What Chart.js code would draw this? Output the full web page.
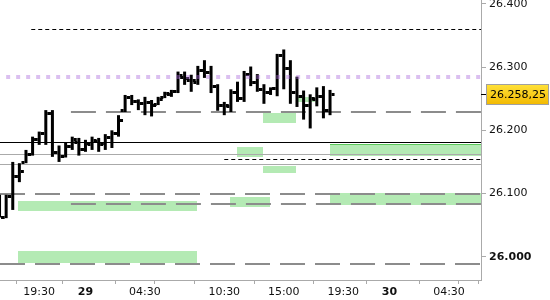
<!DOCTYPE html>
<html>
<head>
<meta charset="utf-8">
<script src="https://cdn.jsdelivr.net/npm/chart.js@4.4.0/dist/chart.umd.min.js"></script>
<style>
    html, body { margin: 0; padding: 0; background: #fff; }
    #wrap { width: 550px; height: 300px; }
</style>
</head>
<body>
<div id="wrap"><canvas id="canvas"></canvas></div>
<script>
// half-hour slots, 0 = 19:30 on the 28th (evening break squeezed out)
var barSlots = [-6, -5, -4, -3, -2, -1, 0, 1, 2, 3, 4, 5, 6, 7, 8, 9, 10, 11, 12, 13, 14, 15, 16, 17, 18, 19,
    20, 21, 22, 23, 24, 25, 26, 27, 28, 29, 30, 31, 32, 33, 34, 35, 36, 37, 38, 39, 40, 41, 42, 43, 44];
var opens = [26080, 26063, 26096, 26128, 26150, 26162, 26186, 26196, 26227, 26165, 26160, 26175, 26182, 26170,
    26178, 26183, 26180, 26190, 26196, 26232, 26253, 26246, 26243, 26245, 26242, 26252, 26258, 26262, 26284,
    26280, 26276, 26295, 26292, 26270, 26240, 26238, 26261, 26251, 26289, 26277, 26265, 26260, 26267, 26320,
    26298, 26261, 26254, 26240, 26250, 26254, 26232];
var highs = [26098, 26098, 26150, 26148, 26169, 26190, 26198, 26232, 26232, 26176, 26180, 26190, 26188, 26185,
    26190, 26188, 26194, 26200, 26224, 26256, 26256, 26249, 26253, 26248, 26253, 26261, 26264, 26293, 26293,
    26288, 26302, 26311, 26302, 26273, 26245, 26265, 26277, 26294, 26301, 26289, 26273, 26268, 26321, 26328,
    26311, 26285, 26263, 26257, 26268, 26270, 26264];
var lows = [26062, 26061, 26074, 26118, 26148, 26160, 26177, 26177, 26158, 26150, 26157, 26169, 26160, 26166,
    26169, 26166, 26169, 26172, 26190, 26229, 26240, 26232, 26224, 26222, 26240, 26251, 26253, 26259, 26272,
    26261, 26272, 26283, 26259, 26231, 26224, 26229, 26245, 26245, 26270, 26261, 26242, 26256, 26254, 26265,
    26242, 26237, 26217, 26203, 26238, 26219, 26224];
var closes = [26063, 26096, 26128, 26135, 26162, 26186, 26196, 26227, 26165, 26160, 26175, 26186, 26170, 26180,
    26185, 26178, 26190, 26195, 26216, 26253, 26246, 26243, 26245, 26240, 26250, 26259, 26262, 26287, 26283,
    26280, 26295, 26292, 26270, 26240, 26240, 26261, 26251, 26289, 26277, 26265, 26260, 26267, 26320, 26298,
    26261, 26254, 26240, 26251, 26254, 26232, 26258.25];

var xTickSlots = [0, 7, 16, 19, 28, 37, 46, 53, 62, 65];
var xTickLabels = ['19:30', '29', '04:30', '', '10:30', '15:00', '19:30', '30', '04:30', ''];
var yTicks = [26000, 26100, 26200, 26300, 26400];

// horizontal levels, grouped by how they are drawn
var blackDashLevels = [26360, 26154];
var blackDashFrom = [-1.2, 28];
var purpleLevels = [26284.4];
var purpleFrom = [-5];
var grayDashLevels = [26228.5, 26100, 26083.4, 25988.4];
var grayDashFrom = [4.8, -6, 4.8, -6];
var blackLevels = [26182];
var grayLevels = [26162, 26146];

// green zones
var zoneFrom = [-3.25, -3.25, 29.9, 33.8, 28.9, 44, 44, 33.8, 38.96];
var zoneTo = [23.8, 23.8, 33.8, 38.9, 34.9, 67, 67, 38.9, 41.7];
var zoneLow = [26072, 25990, 26158, 26133, 26079, 26159, 26082, 26212, 26245];
var zoneHigh = [26088, 26009, 26174, 26143.5, 26095, 26178, 26101, 26228, 26253];
var edgeZone = 5;

Chart.defaults.font.family = 'DejaVu Sans';
Chart.defaults.font.size = 11;

function fmt(v, dec) {
    var parts = v.toFixed(dec).split('.');
    var whole = parts[0].replace(/\B(?=(\d{3})+(?!\d))/g, '.');
    return dec ? whole + ',' + parts[1] : whole;
}

function hLine(chart, value, from, color, width, dash) {
    var ctx = chart.ctx, area = chart.chartArea;
    var y = Math.round(chart.scales.y.getPixelForValue(value)) + (width % 2 ? 0.5 : 0);
    var x0 = from == null ? area.left : Math.max(area.left, chart.scales.x.getPixelForValue(from));
    ctx.save();
    ctx.strokeStyle = color;
    ctx.lineWidth = width;
    ctx.setLineDash(dash || []);
    ctx.beginPath();
    ctx.moveTo(x0, y);
    ctx.lineTo(area.right, y);
    ctx.stroke();
    ctx.restore();
}

var levelsPlugin = {
    id: 'levels',
    beforeDatasetsDraw: function(chart) {
        var ctx = chart.ctx, area = chart.chartArea, xs = chart.scales.x, ys = chart.scales.y;
        ctx.save();
        ctx.beginPath();
        ctx.rect(area.left, area.top, area.right - area.left, area.bottom - area.top);
        ctx.clip();
        ctx.fillStyle = 'rgb(180,234,180)';
        for (var i = 0; i < zoneFrom.length; i++) {
            var x0 = Math.round(xs.getPixelForValue(zoneFrom[i]));
            var x1 = Math.round(xs.getPixelForValue(zoneTo[i]));
            var y0 = Math.round(ys.getPixelForValue(zoneHigh[i]));
            var y1 = Math.round(ys.getPixelForValue(zoneLow[i]));
            ctx.fillRect(x0, y0, x1 - x0, y1 - y0);
            if (i === edgeZone) {
                ctx.fillStyle = 'rgb(90,200,90)';
                ctx.fillRect(x0, y0, x1 - x0, 1);
                ctx.fillStyle = 'rgb(180,234,180)';
            }
        }
        grayDashLevels.forEach(function(v, i) { hLine(chart, v, grayDashFrom[i], 'rgb(140,140,140)', 2, [25, 10]); });
        grayLevels.forEach(function(v) { hLine(chart, v, null, 'rgb(170,170,170)', 1); });
        blackLevels.forEach(function(v) { hLine(chart, v, null, '#000', 1); });
        blackDashLevels.forEach(function(v, i) { hLine(chart, v, blackDashFrom[i], '#000', 1, [4, 3]); });
        ctx.restore();
    },
    afterDatasetsDraw: function(chart) {
        var ctx = chart.ctx, area = chart.chartArea, xs = chart.scales.x, ys = chart.scales.y;
        ctx.save();
        ctx.beginPath();
        ctx.rect(area.left, area.top, area.right - area.left, area.bottom - area.top);
        ctx.clip();
        // open / close ticks
        ctx.fillStyle = '#000';
        for (var i = 0; i < barSlots.length; i++) {
            var px = xs.getPixelForValue(barSlots[i]);
            var yo = Math.round(ys.getPixelForValue(opens[i]));
            var yc = Math.round(ys.getPixelForValue(closes[i]));
            ctx.fillRect(px - 4.5, yo - 1, 3, 3);
            ctx.fillRect(px + 1.5, yc - 1, 3, 3);
        }
        purpleLevels.forEach(function(v, i) { hLine(chart, v, purpleFrom[i], 'rgba(170,105,220,0.42)', 4, [4, 6]); });
        ctx.restore();
    },
    afterDraw: function(chart) {
        var ctx = chart.ctx, area = chart.chartArea;
        var last = closes[closes.length - 1];
        var y = Math.round(chart.scales.y.getPixelForValue(last));
        ctx.save();
        ctx.fillStyle = '#000';
        ctx.fillRect(area.right, y, 5, 1);
        var g = ctx.createLinearGradient(0, y - 10, 0, y + 11);
        g.addColorStop(0, '#ffe23a');
        g.addColorStop(1, '#f2b800');
        ctx.fillStyle = g;
        ctx.fillRect(486, y - 10, 63, 21);
        ctx.strokeStyle = 'rgb(160,160,160)';
        ctx.lineWidth = 1;
        ctx.strokeRect(486.5, y - 9.5, 62, 20);
        ctx.fillStyle = '#000';
        ctx.font = '11px "DejaVu Sans"';
        ctx.textBaseline = 'middle';
        ctx.textAlign = 'left';
        ctx.fillText(fmt(last, 2), 490, y + 1);
        ctx.restore();
    }
};

var ctx = document.getElementById('canvas').getContext('2d');
window.myChart = new Chart(ctx, {
    type: 'bar',
    data: {
        datasets: [{
            data: barSlots.map(function(s, i) { return { x: s, y: [lows[i], highs[i]] }; }),
            backgroundColor: '#000',
            borderWidth: 0,
            barThickness: 3,
            inflateAmount: 0,
            grouped: false
        }]
    },
    options: {
        responsive: true,
        maintainAspectRatio: false,
        animation: false,
        layout: { padding: 0 },
        plugins: { legend: { display: false }, tooltip: { enabled: false } },
        scales: {
            x: {
                type: 'linear',
                min: -5.93,
                max: 66.84,
                offset: false,
                afterBuildTicks: function(s) { s.ticks = xTickSlots.map(function(v) { return { value: v }; }); },
                afterFit: function(s) { s.height = 20; s.paddingLeft = 0; s.paddingRight = 0; },
                grid: { drawOnChartArea: false, tickLength: 4, color: 'rgb(170,170,170)' },
                border: { color: 'rgb(170,170,170)' },
                ticks: {
                    autoSkip: false,
                    maxRotation: 0,
                    padding: 2,
                    color: '#111',
                    font: function(c) {
                        var lab = xTickLabels[c.index] || '';
                        return { family: 'DejaVu Sans', size: 11, weight: lab && lab.indexOf(':') < 0 ? 'bold' : 'normal' };
                    },
                    callback: function(v, i) { return xTickLabels[i]; }
                }
            },
            y: {
                position: 'right',
                min: 25963.1,
                max: 26406.3,
                afterBuildTicks: function(s) { s.ticks = yTicks.map(function(v) { return { value: v }; }); },
                afterFit: function(s) { s.width = 69; s.paddingTop = 0; s.paddingBottom = 0; },
                grid: { drawOnChartArea: false, tickLength: 5, color: 'rgb(170,170,170)' },
                border: { color: 'rgb(170,170,170)' },
                ticks: {
                    padding: 3,
                    color: '#111',
                    font: function(c) {
                        var v = c.tick ? c.tick.value : 0;
                        return { family: 'DejaVu Sans', size: 11, weight: v % 1000 === 0 ? 'bold' : 'normal' };
                    },
                    callback: function(v) { return fmt(v, 0); }
                }
            }
        }
    },
    plugins: [levelsPlugin]
});
</script>
</body>
</html>
